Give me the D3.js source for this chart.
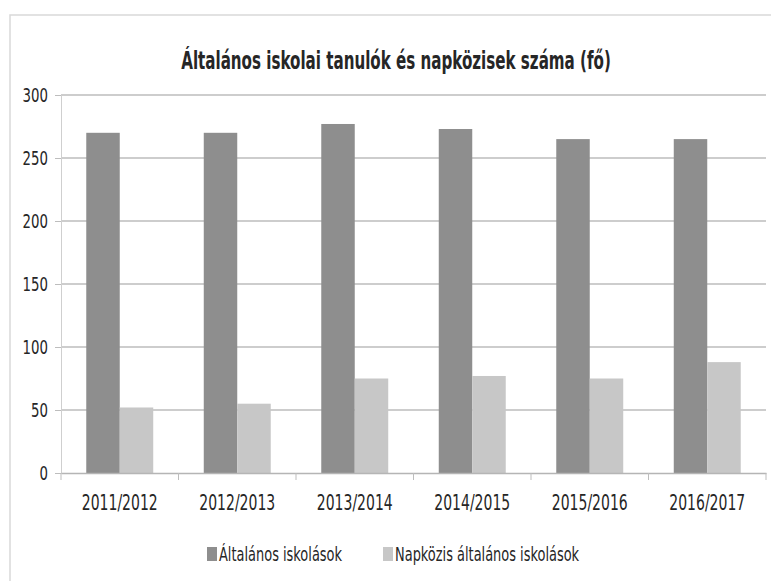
<!DOCTYPE html>
<html>
<head>
<meta charset="utf-8">
<script src="https://cdn.jsdelivr.net/npm/d3@7"></script>
<style>
  body { margin: 0; background: #fff; }
  text { font-family: "DejaVu Sans Condensed", "DejaVu Sans", sans-serif; fill: #262626; }
</style>
</head>
<body>
<div class="chartDiv"></div>
<script>
"use strict";

// Data:
var years = ["2011/2012", "2012/2013", "2013/2014", "2014/2015", "2015/2016", "2016/2017"];
var seriesNames = ["Általános iskolások", "Napközis általános iskolások"];
var pupils = [270, 270, 277, 273, 265, 265];
var dayCare = [52, 55, 75, 77, 75, 88];
var yTicks = [0, 50, 100, 150, 200, 250, 300];

var colors = ["#8e8e8e", "#c7c7c7"];

// SVG Properties:
var width = 771, height = 581;
var margin = { top: 95, right: 5, bottom: 108, left: 61 };

// the original uses a narrow font, squeeze the text to its width
var squeeze = function(sel, f)
{
    sel.each(function() {
        var w = this.getComputedTextLength();
        d3.select(this).attr("textLength", w * f).attr("lengthAdjust", "spacingAndGlyphs");
    });
}

var svg = d3.select(".chartDiv").append("svg")
    .attr("width", width)
    .attr("height", height);

// chart frame
svg.append("rect")
    .attr("x", 10).attr("y", 15)
    .attr("width", width + 20).attr("height", height + 20)
    .attr("fill", "none")
    .attr("stroke", "#d9d9d9")
    .attr("stroke-width", 1.5);

var x0 = d3.scaleBand()
    .domain(years)
    .range([margin.left, width - margin.right])
    .paddingInner(0.43)
    .paddingOuter(0.215);

var x1 = d3.scaleBand()
    .domain([0, 1])
    .range([0, x0.bandwidth()]);

var y = d3.scaleLinear()
    .domain([0, 300])
    .range([height - margin.bottom, margin.top]);

// gridlines
svg.append("g")
    .selectAll("line")
    .data(yTicks.slice(1)).enter()
    .append("line")
    .attr("x1", margin.left)
    .attr("x2", width - margin.right)
    .attr("y1", function(d) { return y(d); })
    .attr("y2", function(d) { return y(d); })
    .attr("stroke", "#bdbdbd")
    .attr("stroke-width", 1.5);

// y axis
var yAxis = svg.append("g")
    .attr("transform", "translate(" + margin.left + ",0)")
    .call(d3.axisLeft(y).tickValues(yTicks).tickSize(6).tickPadding(7));
yAxis.select(".domain").attr("stroke", "#cfcfcf");
yAxis.selectAll(".tick line").attr("stroke", "#bdbdbd");
yAxis.selectAll("text").style("font-size", "20px").attr("fill", "#262626");
squeeze(yAxis.selectAll("text"), 0.74);

// bars
var rows = years.map(function(d, i) { return { year: d, values: [pupils[i], dayCare[i]] }; });

var groups = svg.append("g")
    .selectAll("g")
    .data(rows).enter()
    .append("g")
    .attr("transform", function(d) { return "translate(" + x0(d.year) + ",0)"; });

groups.selectAll("rect")
    .data(function(d) { return d.values; }).enter()
    .append("rect")
    .attr("x", function(d, i) { return x1(i); })
    .attr("y", function(d) { return y(d); })
    .attr("width", x1.bandwidth())
    .attr("height", function(d) { return y(0) - y(d); })
    .attr("fill", function(d, i) { return colors[i]; });

// x axis
var xStep = x0.step();
var xAxis = svg.append("g")
    .attr("transform", "translate(0," + y(0) + ")")
    .call(d3.axisBottom(x0).tickSize(0).tickPadding(22));
xAxis.select(".domain").attr("stroke", "#b5b5b5").attr("stroke-width", 1.5);
xAxis.selectAll("text").style("font-size", "21px").attr("fill", "#262626");
squeeze(xAxis.selectAll("text"), 0.74);

svg.append("g")
    .selectAll("line")
    .data(d3.range(years.length + 1)).enter()
    .append("line")
    .attr("x1", function(d) { return margin.left + d * xStep; })
    .attr("x2", function(d) { return margin.left + d * xStep; })
    .attr("y1", y(0))
    .attr("y2", y(0) + 7)
    .attr("stroke", "#bdbdbd");

// title
var title = svg.append("text")
    .attr("x", 396)
    .attr("y", 69)
    .attr("text-anchor", "middle")
    .style("font-size", "24px")
    .style("font-weight", "bold")
    .text("Általános iskolai tanulók és napközisek száma (fő)");
squeeze(title, 0.7);

// legend
var legendX = [207, 383];
var legend = svg.append("g")
    .selectAll("g")
    .data(seriesNames).enter()
    .append("g")
    .attr("transform", function(d, i) { return "translate(" + legendX[i] + ",547)"; });

legend.append("rect")
    .attr("width", 10)
    .attr("height", 14)
    .attr("fill", function(d, i) { return colors[i]; });

var legendText = legend.append("text")
    .attr("x", 12)
    .attr("y", 14)
    .style("font-size", "20px")
    .text(function(d) { return d; });
squeeze(legendText, 0.72);
</script>
</body>
</html>
